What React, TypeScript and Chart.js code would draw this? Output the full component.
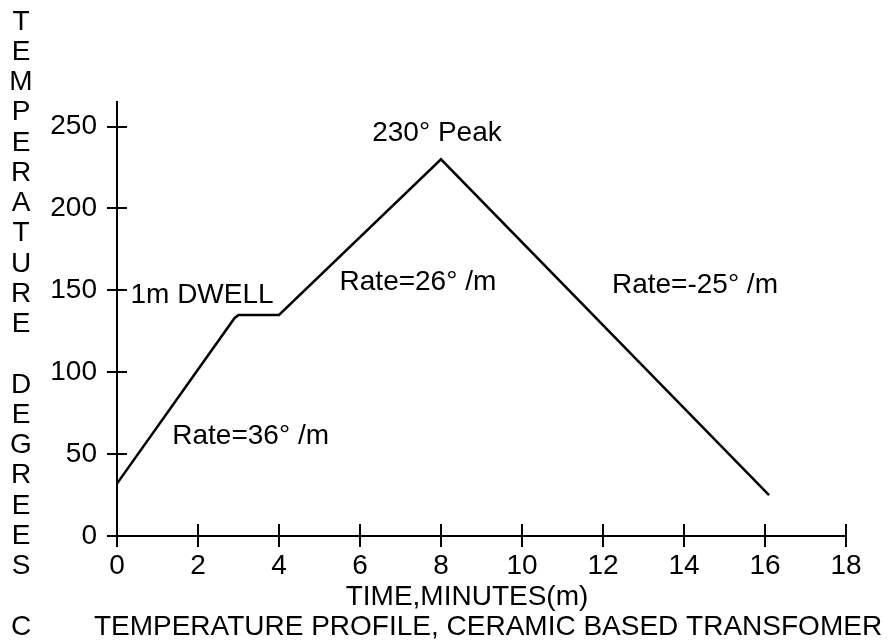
import React, { useEffect, useRef } from "react";
import { Chart, registerables } from "chart.js";

Chart.register(...registerables);

// Data
const timeMinutes = [0, 2.9, 3, 4, 8, 16.1];
const temperatures = [32, 133, 135, 135, 230, 25];

const xTickValues = [0, 2, 4, 6, 8, 10, 12, 14, 16, 18];
const yTickValues = [0, 50, 100, 150, 200, 250];

const annotationTexts = ["230° Peak", "1m DWELL", "Rate=26° /m", "Rate=-25° /m", "Rate=36° /m"];
const annotationX = [7.9, 2.1, 7.43, 14.27, 3.3];
const annotationY = [246, 147, 155, 153, 61];

const yTitle = "TEMPERATURE DEGREES C";
const xTitle = "TIME,MINUTES(m)";
const chartTitle = "TEMPERATURE PROFILE, CERAMIC BASED TRANSFOMER";

const FONT = '"Liberation Sans", Arial, sans-serif';

const decorPlugin = {
  id: "decor",
  afterDraw(chart: any) {
    const ctx = chart.ctx;
    const xs = chart.scales.x;
    const ys = chart.scales.y;
    const ax = xs.getPixelForValue(0);
    const ay = ys.getPixelForValue(0);
    ctx.save();
    ctx.strokeStyle = "#000";
    ctx.lineWidth = 2;
    // crossing tick marks
    yTickValues.forEach((v) => {
      const py = Math.round(ys.getPixelForValue(v));
      ctx.beginPath();
      ctx.moveTo(ax - 10, py);
      ctx.lineTo(ax + 10, py);
      ctx.stroke();
    });
    xTickValues.forEach((v) => {
      const px = Math.round(xs.getPixelForValue(v));
      ctx.beginPath();
      ctx.moveTo(px, ay - 12);
      ctx.lineTo(px, ay + 11);
      ctx.stroke();
    });
    ctx.fillStyle = "#000";
    ctx.font = `28px ${FONT}`;
    ctx.textAlign = "center";
    ctx.textBaseline = "middle";
    // annotations
    annotationTexts.forEach((t, i) => {
      ctx.fillText(t, xs.getPixelForValue(annotationX[i]), ys.getPixelForValue(annotationY[i]));
    });
    // vertical stacked y title
    const letters = yTitle.split("");
    letters.forEach((ch, i) => {
      if (ch !== " ") ctx.fillText(ch, 21, 22 + i * 30.25);
    });
    // x axis title and chart title
    ctx.fillText(xTitle, 467, 597);
    ctx.fillText(chartTitle, 488, 627);
    ctx.restore();
  },
};

export default function App() {
  const ref = useRef<HTMLCanvasElement>(null);
  useEffect(() => {
    if (!ref.current) return;
    const chart = new Chart(ref.current, {
      type: "line",
      data: {
        datasets: [
          {
            data: timeMinutes.map((t, i) => ({ x: t, y: temperatures[i] })),
            borderColor: "#000",
            borderWidth: 2.5,
            pointRadius: 0,
            tension: 0,
            fill: false,
          },
        ],
      },
      options: {
        animation: false,
        responsive: false,
        devicePixelRatio: 1,
        layout: { padding: { top: 102, right: 46, left: 0, bottom: 0 } },
        plugins: { legend: { display: false }, tooltip: { enabled: false }, title: { display: false } },
        scales: {
          x: {
            type: "linear",
            min: 0,
            max: 18,
            grid: { display: false, drawTicks: false },
            border: { display: true, color: "#000", width: 2 },
            ticks: { color: "#000", font: { family: FONT, size: 28 }, padding: 13, maxRotation: 0, autoSkip: false },
            afterBuildTicks(scale: any) {
              scale.ticks = xTickValues.map((v) => ({ value: v }));
            },
            afterFit(scale: any) {
              scale.height = 107;
              scale.paddingLeft = 0;
              scale.paddingRight = 0;
            },
          },
          y: {
            type: "linear",
            min: 0,
            max: 265,
            grid: { display: false, drawTicks: false },
            border: { display: true, color: "#000", width: 2 },
            ticks: { color: "#000", font: { family: FONT, size: 28 }, padding: 20, autoSkip: false },
            afterBuildTicks(scale: any) {
              scale.ticks = yTickValues.map((v) => ({ value: v }));
            },
            afterFit(scale: any) {
              scale.width = 117;
              scale.paddingTop = 0;
              scale.paddingBottom = 0;
            },
          },
        },
      },
      plugins: [decorPlugin],
    });
    return () => chart.destroy();
  }, []);
  return (
    <div style={{ position: "fixed", left: 0, top: 0, width: 892, height: 643, background: "#fff" }}>
      <canvas ref={ref} width={892} height={643} style={{ display: "block" }} />
    </div>
  );
}
